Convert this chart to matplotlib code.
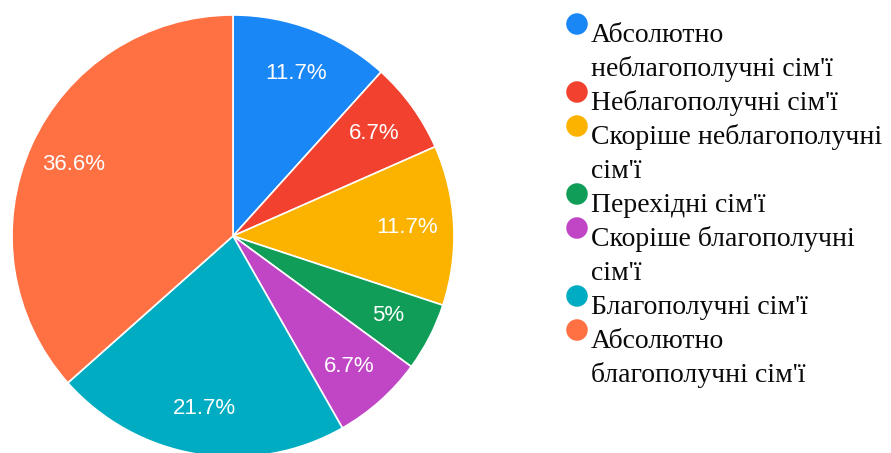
import matplotlib.pyplot as plt

# share of families by category (%)
categories = [
    "Абсолютно\nнеблагополучні сім'ї",
    "Неблагополучні сім'ї",
    "Скоріше неблагополучні\nсім'ї",
    "Перехідні сім'ї",
    "Скоріше благополучні\nсім'ї",
    "Благополучні сім'ї",
    "Абсолютно\nблагополучні сім'ї",
]
values = [11.7, 6.7, 11.7, 5, 6.7, 21.7, 36.6]
colors = ['#1a87f7', '#f2412f', '#fbb300', '#0f9d58', '#c146c6', '#00acc1', '#ff7043']

total = sum(values)

W, H = 891, 453
fig = plt.figure(figsize=(W / 100, H / 100), dpi=100)

# pie: centre (233, 236) px, radius 221 px
cx, cy, r = 233, 236, 221
ax = fig.add_axes([(cx - r) / W, (H - cy - r) / H, 2 * r / W, 2 * r / H])
ax.pie(values, colors=colors, startangle=90, counterclock=False,
       autopct=lambda p: f'{round(p * total / 100, 1):g}%',
       pctdistance=0.79,
       wedgeprops=dict(edgecolor='white', linewidth=1.2),
       textprops=dict(color='white', fontsize=16, family='Liberation Sans'))
ax.set_xlim(-1, 1)
ax.set_ylim(-1, 1)
ax.set_aspect('equal')

# legend drawn in pixel coordinates
lg = fig.add_axes([0, 0, 1, 1])
lg.set_xlim(0, W)
lg.set_ylim(H, 0)
lg.axis('off')

line_step = 34
baseline = 42
for name, col in zip(categories, colors):
    lg.scatter([577], [baseline - 18], s=240, color=col, edgecolors='none')
    for i, part in enumerate(name.split('\n')):
        lg.text(591, baseline + i * line_step, part, fontsize=20,
                family='Liberation Serif', color='#0a0a0a', va='baseline', ha='left')
    baseline += line_step * (name.count('\n') + 1)

fig.savefig('out.png', dpi=100)
